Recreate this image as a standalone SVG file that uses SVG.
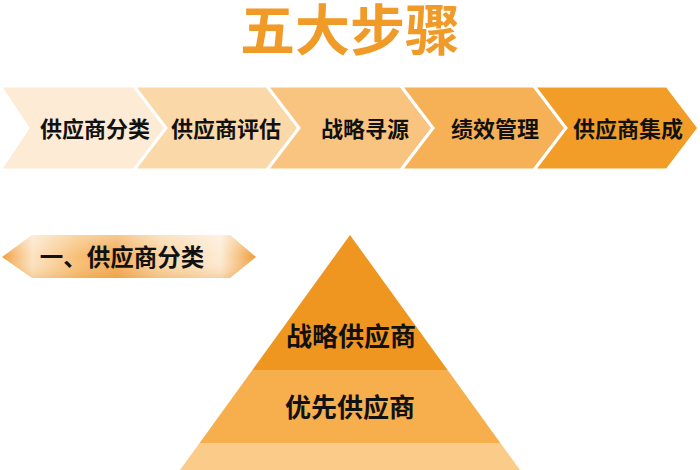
<svg xmlns="http://www.w3.org/2000/svg" width="700" height="470" viewBox="0 0 700 470">
<defs>
<style>
text{font-family:"Noto Sans CJK SC","Noto Sans",sans-serif;font-weight:bold;text-anchor:middle;fill:#111}
.step{font-size:22px}
.chev{stroke:#fff;stroke-width:3;stroke-linejoin:miter}
.pyr{font-size:26px}
</style>
<linearGradient id="bannerGrad" x1="0" y1="0" x2="1" y2="0">
<stop offset="0" stop-color="#F0A040"/>
<stop offset="0.12" stop-color="#FCE3C2"/>
<stop offset="0.3" stop-color="#F7BE74"/>
<stop offset="0.45" stop-color="#F3AA55"/>
<stop offset="0.62" stop-color="#FAD3A0"/>
<stop offset="0.86" stop-color="#FDEBD4"/>
<stop offset="1" stop-color="#EF9C38"/>
</linearGradient>
<linearGradient id="bannerShade" x1="0" y1="0" x2="0" y2="1">
<stop offset="0" stop-color="#fff" stop-opacity="0.35"/>
<stop offset="0.5" stop-color="#fff" stop-opacity="0"/>
<stop offset="1" stop-color="#E08A20" stop-opacity="0.25"/>
</linearGradient>
</defs>
<rect width="700" height="470" fill="#fff"/>

<g id="title">
<text x="350" y="50" style="font-size:55px;fill:#F09A28">五大步骤</text>
</g>

<g id="step1">
<polygon class="chev" points="0,86 134,86 166,128 134,170 0,170 28,128" fill="#FDEBD5"/>
<text class="step" x="95" y="137">供应商分类</text>
</g>
<g id="step2">
<polygon class="chev" points="134,86 267,86 299,128 267,170 134,170 166,128" fill="#FBD8A8"/>
<text class="step" x="226" y="137">供应商评估</text>
</g>
<g id="step3">
<polygon class="chev" points="267,86 401,86 433,128 401,170 267,170 299,128" fill="#F9C47F"/>
<text class="step" x="365" y="137">战略寻源</text>
</g>
<g id="step4">
<polygon class="chev" points="401,86 534,86 566,128 534,170 401,170 433,128" fill="#F6B156"/>
<text class="step" x="495" y="137">绩效管理</text>
</g>
<g id="step5">
<polygon class="chev" points="534,86 667,86 699,128 667,170 534,170 566,128" fill="#F29D28"/>
<text class="step" x="628" y="137">供应商集成</text>
</g>

<g id="banner">
<polygon points="2,257 32,235 230,235 256,257 230,278 32,278" fill="url(#bannerGrad)"/>
<polygon points="2,257 32,235 230,235 256,257 230,278 32,278" fill="url(#bannerShade)"/>
<text x="122" y="266" style="font-size:23.5px">一、供应商分类</text>
</g>

<g id="pyramid">
<polygon points="350,235 447.6,370 252.4,370" fill="#EE961F"/>
<polygon points="252.4,370 447.6,370 500.4,443 199.6,443" fill="#F6AF4C"/>
<polygon points="199.6,443 500.4,443 520,470 180,470" fill="#FBCB8A"/>
<text class="pyr" x="351" y="346">战略供应商</text>
<text class="pyr" x="350" y="417">优先供应商</text>
</g>
</svg>
